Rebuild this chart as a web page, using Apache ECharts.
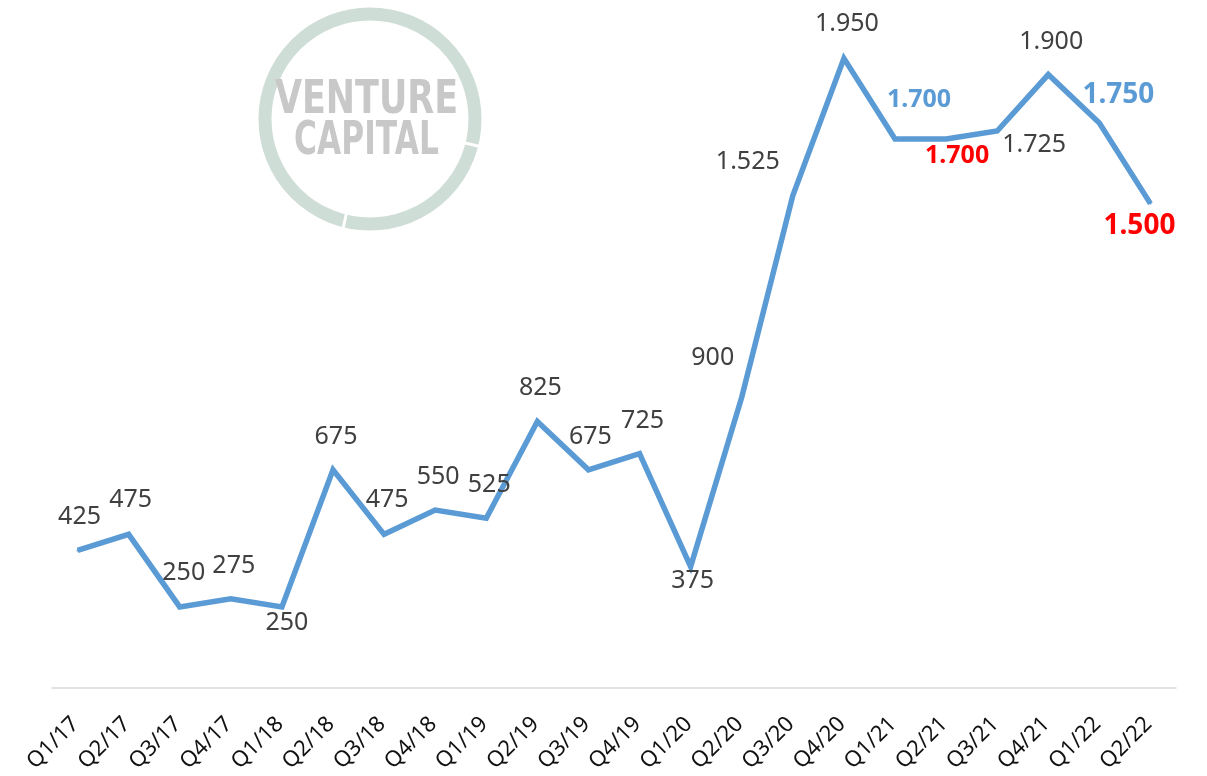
<!DOCTYPE html>
<html>
<head>
<meta charset="utf-8">
<script src="https://cdn.jsdelivr.net/npm/echarts@6/dist/echarts.min.js"></script>
<style>html,body{margin:0;padding:0;background:#fff;}#c{width:1207px;height:776px;}</style>
</head>
<body>
<div id="c"></div>
<script>
const categories = ['Q1/17','Q2/17','Q3/17','Q4/17','Q1/18','Q2/18','Q3/18','Q4/18','Q1/19','Q2/19','Q3/19','Q4/19','Q1/20','Q2/20','Q3/20','Q4/20','Q1/21','Q2/21','Q3/21','Q4/21','Q1/22','Q2/22'];
const values = [425,475,250,275,250,675,475,550,525,825,675,725,375,900,1525,1950,1700,1700,1725,1900,1750,1500];
const labelTexts = ['425','475','250','275','250','675','475','550','525','825','675','725','375','900','1.525','1.950','1.700','1.700','1.725','1.900','1.750','1.500'];

// label placement relative to the point (layout only)
const labelOffsets = [[2,-34],[2,-34],[4,-34],[3,-33],[5,16],[3,-33],[3,-34],[3,-33],[3,-33],[3,-34],[2,-33],[3,-33],[2,14],[-29,-39],[-45,-34],[3,-35],[24,-39],[11,17],[37,14],[3,-33],[19,-28],[-11,22]];
const labelStyles = {16:'blue',17:'red',20:'blueBig',21:'redBig'};
const SYM = 2;

const seriesData = values.map((v,i)=>{
  const st = labelStyles[i];
  const lab = {show:true, position:[labelOffsets[i][0]+SYM/2, labelOffsets[i][1]+SYM/2],
    align:'center', verticalAlign:'middle', formatter:labelTexts[i],
    fontFamily:'Noto Sans', fontSize:25, color:'#404040', lineHeight:25};
  if (st==='blue'){lab.color='#5B9BD5';lab.fontWeight='bold';}
  if (st==='red'){lab.color='#FF0000';lab.fontWeight='bold';}
  if (st==='blueBig'){lab.color='#5B9BD5';lab.fontWeight='bold';lab.fontSize=28;lab.lineHeight=28;}
  if (st==='redBig'){lab.color='#FF0000';lab.fontWeight='bold';lab.fontSize=28;lab.lineHeight=28;}
  return {value:v, label:lab};
});

const chart = echarts.init(document.getElementById('c'), null, {renderer:'canvas'});
chart.setOption({
  backgroundColor:'#ffffff',
  animation:false,
  grid:[
    {left:52, right:31, top:10, bottom:88.4, outerBoundsMode:'none', containLabel:false},
    {left:50, right:33, top:10, bottom:88.4, outerBoundsMode:'none', containLabel:false}
  ],
  xAxis:[
    {type:'category', gridIndex:0, data:categories, boundaryGap:true,
     axisLine:{show:true, lineStyle:{color:'#d9d9d9', width:1.5}},
     axisTick:{show:false}, axisLabel:{show:false}, splitLine:{show:false}},
    {type:'category', gridIndex:1, data:categories, boundaryGap:true,
     axisLine:{show:false}, axisTick:{show:false}, splitLine:{show:false},
     axisLabel:{show:true, interval:0, rotate:45, margin:33, fontFamily:'Noto Sans', fontSize:22, color:'#111111'}}
  ],
  yAxis:[
    {type:'value', gridIndex:0, min:0, max:2100, show:false, splitLine:{show:false}},
    {type:'value', gridIndex:1, min:0, max:2100, show:false, splitLine:{show:false}}
  ],
  graphic:[
    {type:'circle', z:-10, shape:{cx:370, cy:119, r:105}, style:{fill:'none', stroke:'#cfddd7', lineWidth:13}},
    {type:'line', z:-9, shape:{x1:461, y1:142, x2:482, y2:147}, style:{stroke:'#ffffff', lineWidth:3}},
    {type:'line', z:-9, shape:{x1:347, y1:211, x2:342, y2:233}, style:{stroke:'#ffffff', lineWidth:3}},
    {type:'text', z:-8, x:366.5, y:101, scaleX:0.76, scaleY:1,
     style:{text:'VENTURE', font:'bold 46px "DejaVu Sans"', fill:'#c8c8c8', textAlign:'center', textVerticalAlign:'middle'}},
    {type:'text', z:-8, x:366.5, y:142, scaleX:0.68, scaleY:1,
     style:{text:'CAPITAL', font:'bold 46px "DejaVu Sans"', fill:'#c8c8c8', textAlign:'center', textVerticalAlign:'middle'}}
  ],
  series:[{
    type:'line', xAxisIndex:0, yAxisIndex:0, data:seriesData,
    symbol:'circle', symbolSize:SYM, showSymbol:true,
    itemStyle:{color:'#5B9BD5'},
    lineStyle:{color:'#5B9BD5', width:5.5, join:'miter'},
    labelLayout:{hideOverlap:false}
  }]
});
</script>
</body>
</html>
